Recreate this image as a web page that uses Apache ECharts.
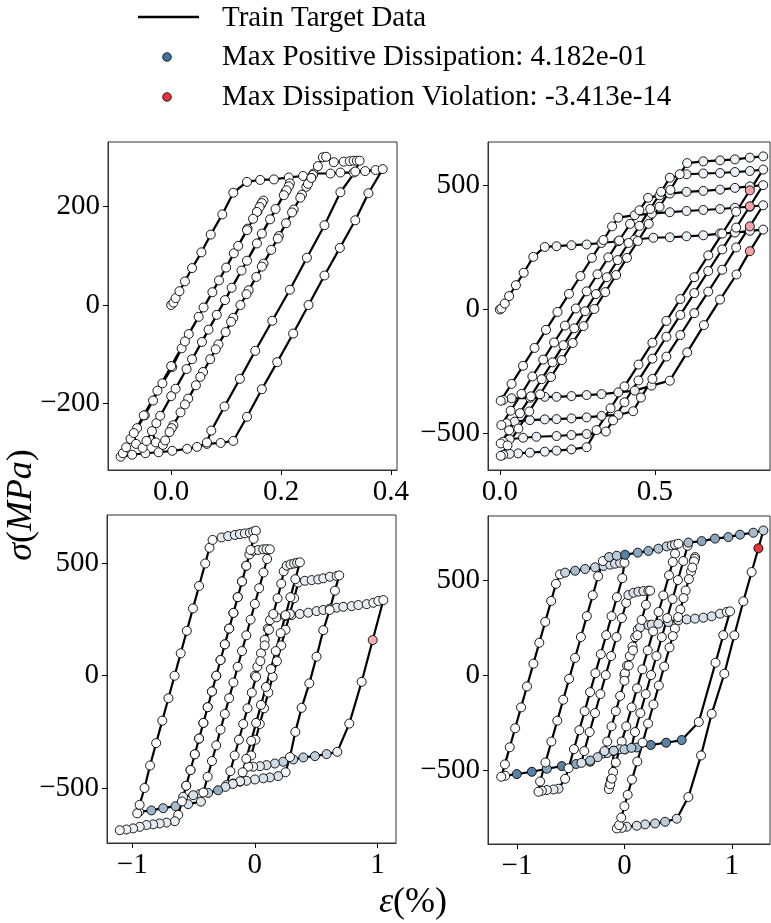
<!DOCTYPE html>
<html>
<head>
<meta charset="utf-8">
<script src="https://cdn.jsdelivr.net/npm/echarts@6.0.0/dist/echarts.min.js"></script>
<style>html,body{margin:0;padding:0;background:#fff}#chart{width:771px;height:923px}</style>
</head>
<body>
<div id="chart"></div>
<script>
// each point: [strain %, stress MPa, dissipation level (neg = violation)]
var panel1 = [
  [0,0,0],[0.004,5,0],[0.008,14,0],[0.015,28,0],[0.025,48,0],[0.038,75,0],[0.055,107,0],[0.072,143,0],[0.093,184,0],[0.113,228,0],
  [0.138,250,0],[0.162,254,0],[0.187,255,0],[0.214,259,0],[0.24,262,0],[0.259,267,0],[0.29,267,0],[0.308,269,0],[0.332,269,0],[0.353,272,0],[0.372,274,0],[0.385,276,0],
  [0.359,227,-0.06],[0.335,172,0],[0.307,116,0],[0.279,60,0],[0.25,0,0],[0.222,-58,0],[0.193,-116,0],[0.165,-171,0],[0.138,-227,0],[0.113,-276,0],
  [0.09,-280,0],[0.065,-282,0],[0.047,-288,0],[0.029,-292,0],[0.002,-296,0],[-0.023,-299,0],[-0.047,-301,0],[-0.071,-304,0],[-0.092,-308,0],
  [-0.088,-301,0],[-0.082,-289,0],[-0.074,-272,0],[-0.062,-250,0],[-0.048,-224,0],[-0.033,-194,0],[-0.016,-159,0],[0.002,-126,0],[0.019,-88,0],[0.032,-59,0],
  [0.059,-5,0],[0.087,50,0],[0.114,105,0],[0.139,155,0],[0.157,190,0],[0.164,205,0],[0.168,212,0],
  [0.165,207,0],[0.161,199,0],[0.156,189,0],[0.149,175,0],[0.138,152,0],[0.122,120,0],[0.1,76,0],[0.075,26,0],[0.05,-24,0],[0.025,-74,0],[0,-124,0],
  [-0.025,-174,0],[-0.05,-224,0],[-0.068,-260,0],[-0.064,-282,0],[-0.052,-290,0],
  [-0.045,-276,0],[-0.027,-240,0],[0,-185,0],[0.028,-130,0],[0.056,-75,0],[0.083,-20,0],[0.11,35,0],[0.138,90,0],[0.165,145,0],[0.19,195,0],[0.208,230,0],[0.216,247,0],
  [0.214,241,0],[0.21,233,0],[0.205,223,0],[0.18,174,0],[0.156,125,0],[0.128,70,0],[0.098,10,0],[0.068,-50,0],[0.038,-110,0],[0.008,-170,0],[-0.02,-225,0],[-0.035,-256,0],
  [-0.028,-279,0],[-0.015,-284,0],
  [0.004,-244,0],[0.031,-190,0],[0.058,-136,0],[0.086,-80,0],[0.113,-26,0],[0.141,30,0],[0.168,84,0],[0.196,140,0],[0.223,194,0],[0.246,240,0],[0.258,264,0],
  [0.255,258,0],[0.249,246,0],[0.238,224,0],[0.22,188,0],[0.194,135,0],[0.165,78,0],[0.137,22,0],[0.109,-34,0],[0.081,-90,0],[0.053,-146,0],[0.025,-202,0],[0.001,-250,0],[-0.011,-275,0],
  [-0.003,-258,0],[0.017,-218,0],[0.045,-163,0],[0.071,-110,0],[0.099,-55,0],[0.126,0,0],[0.155,57,0],[0.182,112,0],[0.209,166,0],[0.235,218,0],[0.255,258,0],[0.267,282,0],[0.276,300,0],
  [0.282,301,0],[0.296,290,0],[0.314,291,0],[0.325,292,0],[0.332,293,0],[0.338,293,0],[0.343,293,0],
  [0.335,271,0],[0.308,229,0],[0.279,162,0],[0.247,96,0],[0.216,31,0],[0.184,-32,0],[0.153,-93,0],[0.125,-150,0],[0.097,-206,0],[0.073,-255,0],[0.065,-279,0]
];

var panel2 = [
  [0,0,0],[0.005,4,0],[0.016,24,0],[0.03,54,0],[0.052,98,0],[0.077,148,0],[0.108,212,0],[0.145,252,0.05],
  [0.183,255,0.1],[0.231,259,0.1],[0.28,262,0.1],[0.328,268,0.1],[0.382,275,0.1],[0.435,282,0.1],[0.495,289,0.1],[0.548,291,0.1],[0.602,295,0.1],[0.656,299,0.1],[0.71,306,0.1],[0.758,310,0.1],[0.806,317,0.1],[0.849,322,0.05],
  [0.806,235,-0.45],[0.763,141,0],[0.71,40,0],[0.658,-63,0],[0.604,-173,0],[0.548,-287,0],
  [0.489,-307,0.08],[0.435,-327,0.1],[0.382,-334,0.1],[0.328,-341,0.1],[0.28,-345,0.1],[0.231,-349,0.1],[0.183,-352,0.1],[0.145,-352,0.1],[0.097,-356,0.1],[0.038,-358,0.1],[0.011,-365,0],[0.003,-368,0],
  [0.038,-300,0],[0.075,-227,0],[0.112,-155,0],[0.149,-82,0],[0.186,-10,0],[0.223,63,0],[0.26,135,0],[0.297,208,0],[0.334,280,0],[0.362,335,0],[0.382,370,0.05],
  [0.435,380,0.1],[0.49,386,0.1],[0.548,392,0.1],[0.602,397,0.1],[0.656,401,0.1],[0.71,405,0.1],[0.758,410,0.1],[0.806,414,0.1],[0.849,420,0.05],
  [0.806,335,-0.45],[0.762,250,0],[0.717,160,0],[0.672,72,0],[0.627,-15,0],[0.582,-103,0],[0.537,-190,0],[0.492,-280,0],[0.455,-355,0],[0.43,-410,0],
  [0.382,-425,0.1],[0.328,-429,0.1],[0.28,-435,0.1],[0.231,-439,0.1],[0.183,-442,0.1],[0.145,-443,0.1],[0.097,-446,0.1],[0.048,-452,0.1],[0.022,-459,0],[0.005,-466,0],
  [0.035,-408,0],[0.07,-340,0],[0.105,-270,0],[0.14,-202,0],[0.175,-133,0],[0.21,-65,0],[0.245,4,0],[0.28,73,0],[0.315,142,0],[0.35,210,0],[0.385,278,0],[0.42,345,0],[0.45,400,0],[0.478,450,0.05],
  [0.515,460,0.1],[0.548,467,0.1],[0.602,474,0.1],[0.656,478,0.1],[0.71,483,0.1],[0.758,490,0.1],[0.806,496,0.1],[0.849,501,0.05],
  [0.806,416,-0.45],[0.762,330,0],[0.717,242,0],[0.672,155,0],[0.627,66,0],[0.582,-22,0],[0.537,-110,0],[0.492,-198,0],[0.447,-286,0],[0.402,-374,0],[0.365,-447,0],[0.342,-492,0],
  [0.28,-502,0.1],[0.231,-506,0.1],[0.183,-510,0.1],[0.118,-513,0.1],[0.075,-517,0.1],[0.032,-523,0.1],[0.011,-533,0],[0.003,-540,0],
  [0.03,-487,0],[0.065,-418,0],[0.1,-350,0],[0.135,-281,0],[0.17,-213,0],[0.205,-144,0],[0.24,-76,0],[0.275,-7,0],[0.31,62,0],[0.345,130,0],[0.38,199,0],[0.415,268,0],[0.45,337,0],[0.485,405,0],[0.52,474,0],[0.548,531,0.05],
  [0.602,545,0.1],[0.656,548,0.1],[0.71,550,0.1],[0.758,554,0.1],[0.806,558,0.1],[0.849,564,0.05],
  [0.806,480,-0.45],[0.762,394,0],[0.717,306,0],[0.672,218,0],[0.627,130,0],[0.582,42,0],[0.537,-46,0],[0.492,-134,0],[0.447,-222,0],[0.402,-310,0],[0.357,-398,0],[0.312,-486,0],[0.28,-555,0],
  [0.231,-564,0.1],[0.183,-569,0.1],[0.145,-573,0.1],[0.097,-577,0.1],[0.059,-580,0.1],[0.032,-582,0.1],[0.011,-586,0],[0.003,-590,0],
  [0.025,-548,0],[0.06,-480,0],[0.095,-411,0],[0.13,-342,0],[0.165,-272,0],[0.2,-204,0],[0.235,-135,0],[0.27,-67,0],[0.305,2,0],[0.34,70,0],[0.375,139,0],[0.41,208,0],[0.445,276,0],[0.48,345,0],[0.515,414,0],[0.55,482,0],[0.58,545,0],[0.604,590,0.05],
  [0.656,597,0.1],[0.71,601,0.1],[0.758,605,0.1],[0.806,612,0.1],[0.849,617,0.05]
];

var panel3 = [
  [0,0,0],[0.02,40,0],[0.05,100,0],[0.08,160,0],[0.105,210,0],[0.124,248,0],
  [0.177,260,0.12],[0.245,266,0.12],[0.299,270,0.12],[0.367,275,0.12],[0.435,281,0.12],[0.503,288,0.12],[0.558,293,0.12],[0.612,299,0.12],[0.667,303,0.12],[0.721,307,0.12],[0.789,310,0.12],[0.844,315,0.12],[0.912,319,0.1],[0.966,325,0.08],[1.007,333,0.05],[1.048,337,0.03],
  [0.961,159,-0.4],[0.871,-27,0],[0.77,-213,0],[0.672,-339,0.1],
  [0.585,-349,0.3],[0.49,-358,0.35],[0.395,-364,0.35],[0.313,-373,0.3],[0.231,-383,0.3],[0.163,-391,0.25],[0.095,-398,0.2],[0.041,-403,0.15],[-0.014,-405,0.1],[-0.054,-405,0],
  [-0.03,-355,0],[0.005,-285,0],[0.04,-215,0],[0.075,-145,0],[0.11,-75,0],[0.145,-5,0],[0.18,65,0],[0.215,135,0],[0.25,205,0],[0.285,275,0],[0.32,345,0],[0.354,415,0.05],
  [0.408,423,0.12],[0.463,426,0.12],[0.517,429,0.12],[0.558,434,0.12],[0.612,441,0.1],[0.667,444,0.05],[0.688,447,0],
  [0.653,379,0],[0.61,293,0],[0.558,203,0],[0.503,85,0],[0.444,-34,0],[0.381,-143,0],[0.33,-250,0],[0.286,-362,0],[0.25,-430,0],
  [0.19,-447,0.2],[0.122,-453,0.2],[0.068,-457,0.2],[0,-462,0.15],[-0.068,-468,0.15],[-0.122,-472,0.1],[-0.177,-480,0.1],[-0.231,-487,0],
  [-0.2,-425,0],[-0.165,-355,0],[-0.13,-285,0],[-0.095,-215,0],[-0.06,-145,0],[-0.025,-75,0],[0.01,-5,0],[0.045,65,0],[0.08,135,0],[0.115,205,0],[0.15,275,0],[0.185,345,0],[0.215,410,0],[0.235,465,0.05],
  [0.26,490,0.1],[0.29,496,0.1],[0.32,500,0.1],[0.345,503,0.08],[0.367,505,0],
  [0.33,430,0],[0.29,350,0],[0.25,270,0],[0.21,190,0],[0.17,110,0],[0.13,30,0],[0.09,-50,0],[0.05,-130,0],[0.01,-210,0],[-0.03,-290,0],[-0.07,-370,0],[-0.1,-430,0],[-0.12,-470,0.1],
  [-0.18,-482,0.15],[-0.24,-495,0.2],[-0.3,-510,0.55],[-0.381,-522,0.3],[-0.449,-527,0.2],[-0.503,-532,0.2],[-0.585,-539,0.15],
  [-0.56,-490,0],[-0.525,-420,0],[-0.49,-350,0],[-0.455,-280,0],[-0.42,-210,0],[-0.385,-140,0],[-0.35,-70,0],[-0.315,0,0],[-0.28,70,0],[-0.245,140,0],[-0.21,210,0],[-0.175,280,0],[-0.14,350,0],[-0.105,420,0],[-0.07,490,0],[-0.045,540,0.05],
  [-0.014,557,0.1],[0.027,560,0.1],[0.068,563,0.1],[0.095,564,0.05],[0.122,563,0],
  [0.1,520,0],[0.07,460,0],[0.035,390,0],[0,320,0],[-0.035,250,0],[-0.07,180,0],[-0.105,110,0],[-0.14,40,0],[-0.175,-30,0],[-0.21,-100,0],[-0.245,-170,0],[-0.28,-240,0],[-0.315,-310,0],[-0.35,-380,0],[-0.385,-450,0],[-0.42,-520,0],[-0.44,-561,0.15],
  [-0.544,-572,0.2],[-0.647,-581,0.45],[-0.748,-590,0.45],[-0.844,-600,0.5],[-0.944,-606,0.05],[-0.96,-613,0],
  [-0.94,-575,0],[-0.9,-500,0],[-0.855,-400,0],[-0.805,-300,0],[-0.755,-200,0],[-0.705,-100,0],[-0.655,0,0],[-0.605,100,0],[-0.555,200,0],[-0.505,300,0],[-0.455,400,0],[-0.405,500,0],[-0.37,570,0],[-0.345,605,0],
  [-0.272,616,0.15],[-0.218,622,0.15],[-0.163,627,0.15],[-0.122,631,0.12],[-0.082,634,0.12],[-0.041,637,0.1],[-0.014,642,0.05],[0.008,646,0],
  [-0.01,610,0],[-0.035,560,0],[-0.07,490,0],[-0.105,420,0],[-0.14,350,0],[-0.175,280,0],[-0.21,210,0],[-0.245,140,0],[-0.28,70,0],[-0.315,0,0],[-0.35,-70,0],[-0.385,-140,0],[-0.42,-210,0],[-0.455,-280,0],[-0.49,-350,0],[-0.525,-420,0],[-0.56,-490,0],[-0.595,-560,0],[-0.625,-620,0],[-0.653,-648,0.1],
  [-0.721,-654,0.15],[-0.776,-658,0.15],[-0.83,-662,0.12],[-0.884,-665,0.12],[-0.939,-673,0.1],[-0.993,-680,0.1],[-1.048,-685,0.08],[-1.102,-688,0.06]
];

var panel4 = [
  [0,0,0],[0.005,10,0],[0.025,50,0],[0.05,100,0],[0.075,150,0],[0.1,200,0],[0.125,240,0],[0.146,251,0.15],
  [0.223,263,0.2],[0.254,265,0.2],[0.316,270,0.2],[0.409,279,0.2],[0.502,288,0.2],[0.58,293,0.2],[0.657,297,0.2],[0.735,302,0.2],[0.812,309,0.2],[0.89,323,0.15],[0.952,332,0.1],[0.983,335,0],
  [0.92,210,0],[0.848,65,0],[0.692,-247,0],[0.533,-342,0.8],
  [0.388,-356,0.85],[0.245,-368,0.85],[0.115,-381,0.5],[0.006,-391,0.4],[-0.102,-398,0.3],[-0.195,-412,0.25],[-0.319,-456,0.5],[-0.45,-468,0.6],[-0.583,-479,0.85],[-0.722,-493,0.6],[-0.862,-509,0.85],[-1.002,-521,0.85],[-1.11,-530,0],[-1.147,-535,0],
  [-1.1125,-470,0],[-1.0675,-380,0],[-1.0175,-280,0],[-0.9625,-170,0],[-0.9075,-60,0],[-0.8475,60,0],[-0.7925,170,0],[-0.7375,280,0],[-0.6825,390,0],[-0.6375,480,0],[-0.6,530,0],[-0.552,539,0.3],
  [-0.459,549,0.45],[-0.366,558,0.35],[-0.273,567,0.3],[-0.195,574,0.25],[-0.133,581,0.2],[-0.087,586,0.2],[-0.04,591,0.15],[0,591,0],
  [-0.02,510,0],[-0.07,410,0],[-0.12,310,0],[-0.17,210,0],[-0.22,110,0],[-0.27,10,0],[-0.32,-90,0],[-0.37,-190,0],[-0.42,-290,0],[-0.47,-390,0],[-0.52,-490,0],[-0.552,-546,0],
  [-0.614,-598,0.15],[-0.66,-602,0.15],[-0.722,-605,0.1],[-0.769,-609,0.05],[-0.8,-614,0],
  [-0.785,-560,0],[-0.735,-460,0],[-0.68,-350,0],[-0.625,-240,0],[-0.57,-130,0],[-0.515,-20,0],[-0.46,90,0],[-0.405,200,0],[-0.35,310,0],[-0.295,420,0],[-0.245,520,0],[-0.2,600,0],[-0.143,621,0.35],
  [-0.071,628,0.35],[0.006,633,0.85],[0.124,644,0.6],[0.223,653,0.55],[0.316,665,0.4],[0.394,677,0.3],[0.44,682,0.2],[0.471,686,0.1],[0.502,691,0],
  [0.471,639,0],[0.45,595,0],[0.415,525,0],[0.362,419,0],[0.318,332,0],[0.267,230,0],[0.217,130,0],[0.167,30,0],[0.117,-70,0],[0.067,-170,0],[0.017,-270,0],[-0.025,-350,0],[-0.045,-390,0.2],
  [-0.08,-460,0],[-0.105,-510,0],[-0.125,-550,0],[-0.138,-580,0],[-0.145,-600,0],[-0.132,-575,0],[-0.118,-545,0],
  [-0.1,-400,0.3],[-0.16,-410,0.25],[-0.25,-432,0.3],[-0.32,-450,0.4],[-0.4,-462,0.2],
  [-0.374,-400,0],[-0.324,-300,0],[-0.274,-200,0],[-0.224,-100,0],[-0.174,0,0],[-0.124,100,0],[-0.074,200,0],[-0.024,300,0],[0.016,380,0],[0.037,421,0.15],
  [0.084,433,0.2],[0.13,439,0.2],[0.177,442,0.15],[0.223,444,0.1],[0.239,444,0],
  [0.2,370,0],[0.16,290,0],[0.12,210,0],[0.08,130,0],[0.04,50,0],[0,-30,0],[-0.04,-110,0],[-0.08,-190,0],[-0.12,-270,0],[-0.16,-350,0],[-0.185,-400,0.2],
  [-0.1,-398,0.3],[0,-391,0.35],[0.065,-383,0.4],
  [0.098,-300,0],[0.148,-200,0],[0.198,-100,0],[0.248,0,0],[0.298,100,0],[0.348,200,0],[0.398,300,0],[0.448,400,0],[0.498,500,0],[0.548,600,0],[0.588,680,0],[0.595,697,0.45],
  [0.719,705,0.6],[0.843,718,0.6],[0.967,726,0.55],[1.076,739,0.55],[1.2,749,0.45],[1.293,761,0.3],
  [1.247,667,-1],[1.184,542,0],[1.107,388,0],[1.023,209,0],[0.93,7,0],[0.812,-204,0],[0.713,-423,0],[0.595,-642,0],[0.487,-756,0.2],
  [0.378,-772,0.35],[0.285,-781,0.3],[0.192,-786,0.25],[0.115,-793,0.2],[0.022,-798,0.15],[-0.025,-804,0.05],[-0.071,-807,0],
  [-0.05,-790,0],[-0.03,-750,0],[0,-690,0],[0.03,-630,0],[0.07,-550,0],[0.12,-455,0],[0.17,-355,0],[0.22,-255,0],[0.27,-155,0],[0.32,-55,0],[0.37,45,0],[0.42,145,0],[0.47,245,0],[0.52,345,0],[0.57,445,0],[0.62,545,0],[0.65,605,0],[0.658,621,0],
  [0.655,612,0],[0.648,598,0],[0.632,566,0],[0.6,505,0],[0.55,405,0],[0.5,305,0],[0.45,205,0]
];

var panels = [panel1, panel2, panel3, panel4];
var xRanges = [[-0.115, 0.411], [-0.038, 0.871], [-1.206, 1.151], [-1.27, 1.355]];
var yRanges = [[-335, 331], [-647, 675], [-745, 716], [-889, 837]];
var xTicks = [[0, 0.2, 0.4], [0, 0.5], [-1, 0, 1], [-1, 0, 1]];
var yTicks = [[-200, 0, 200], [-500, 0, 500], [-500, 0, 500], [-500, 0, 500]];
var xDecimals = [1, 1, 0, 0];
var legendNames = ['Train Target Data', 'Max Positive Dissipation: 4.182e-01', 'Max Dissipation Violation: -3.413e-14'];

var FONT = 'Liberation Serif';
var grids = [
  { left: 108, top: 142, width: 289, height: 328 },
  { left: 488, top: 142, width: 282, height: 328 },
  { left: 107, top: 515, width: 289, height: 328 },
  { left: 488, top: 516, width: 282, height: 328 }
];

function fmt(dec) {
  return function (v) {
    var s = Math.abs(v).toFixed(dec);
    return (v < 0 ? '\u2212' : '') + s;
  };
}

function axis(i, range, ticks, dec) {
  return {
    gridIndex: i,
    type: 'value',
    min: range[0],
    max: range[1],
    axisLine: { show: true, onZero: false, lineStyle: { color: '#333', width: 1 } },
    axisTick: { show: true, length: 5, customValues: ticks, lineStyle: { color: '#000', width: 1 } },
    axisLabel: { customValues: ticks, formatter: fmt(dec), fontFamily: FONT, fontSize: 29, color: '#000', margin: 8 },
    splitLine: { show: false }
  };
}

var xAxes = [], yAxes = [], lineSeries = [], dotSeries = [];
for (var i = 0; i < 4; i++) {
  grids[i].show = true;
  grids[i].borderColor = '#333';
  grids[i].borderWidth = 1;
  xAxes.push(axis(i, xRanges[i], xTicks[i], xDecimals[i]));
  yAxes.push(axis(i, yRanges[i], yTicks[i], 0));
  lineSeries.push({
    type: 'line',
    xAxisIndex: i,
    yAxisIndex: i,
    data: panels[i].map(function (p) { return [p[0], p[1]]; }),
    showSymbol: false,
    symbol: 'none',
    lineStyle: { color: '#000', width: 2.2 },
    silent: true,
    z: 2
  });
  dotSeries.push({
    type: 'scatter',
    xAxisIndex: i,
    yAxisIndex: i,
    data: panels[i],
    symbolSize: 9,
    itemStyle: { borderColor: '#000', borderWidth: 0.9, opacity: 1 },
    z: 3
  });
}

var chart = echarts.init(document.getElementById('chart'));
chart.setOption({
  animation: false,
  backgroundColor: '#fff',
  grid: grids,
  xAxis: xAxes,
  yAxis: yAxes,
  visualMap: {
    type: 'continuous',
    show: false,
    seriesIndex: [4, 5, 6, 7],
    dimension: 2,
    min: -1,
    max: 1,
    inRange: { color: ['#e8323c', '#ffffff', '#3a6b93'] }
  },
  series: lineSeries.concat(dotSeries),
  graphic: [
    { type: 'line', shape: { x1: 138, y1: 17, x2: 199, y2: 17 }, style: { stroke: '#000', lineWidth: 2.5 } },
    { type: 'circle', shape: { cx: 167, cy: 57, r: 4.3 }, style: { fill: '#41729a', stroke: '#000', lineWidth: 0.8 } },
    { type: 'circle', shape: { cx: 167, cy: 97, r: 4.3 }, style: { fill: '#e8323c', stroke: '#000', lineWidth: 0.8 } },
    { type: 'text', x: 222, y: 18, style: { text: legendNames[0], fontFamily: FONT, fontSize: 29, fill: '#000', verticalAlign: 'middle' } },
    { type: 'text', x: 222, y: 57, style: { text: legendNames[1], fontFamily: FONT, fontSize: 29, fill: '#000', verticalAlign: 'middle' } },
    { type: 'text', x: 222, y: 97, style: { text: legendNames[2], fontFamily: FONT, fontSize: 29, fill: '#000', verticalAlign: 'middle' } },
    {
      type: 'text', x: 22, y: 505, rotation: Math.PI / 2,
      style: {
        text: '{i|σ}({i|MPa})', fontFamily: FONT, fontSize: 36, fill: '#000', align: 'center', verticalAlign: 'middle',
        rich: { i: { fontStyle: 'italic', fontFamily: FONT, fontSize: 36 } }
      }
    },
    {
      type: 'text', x: 413, y: 903,
      style: {
        text: '{i|ε}(%)', fontFamily: FONT, fontSize: 36, fill: '#000', align: 'center', verticalAlign: 'middle',
        rich: { i: { fontStyle: 'italic', fontFamily: FONT, fontSize: 36 } }
      }
    }
  ]
});
</script>
</body>
</html>
